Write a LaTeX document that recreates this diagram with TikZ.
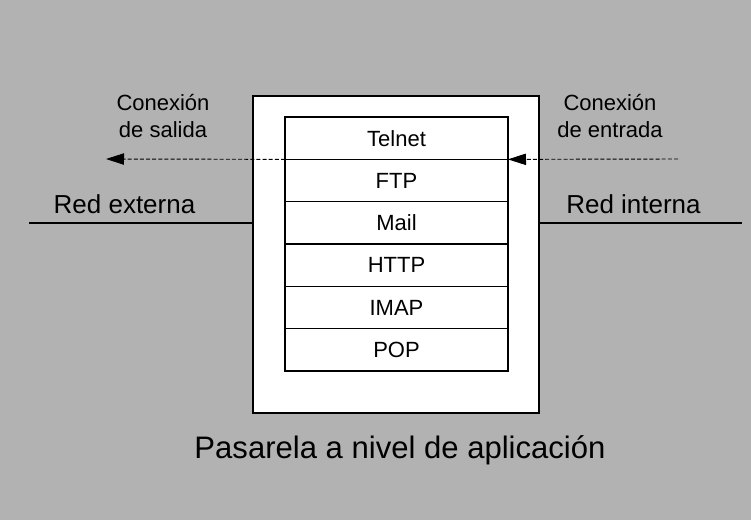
\documentclass[tikz,border=0pt]{standalone}
\usepackage{fontspec}
\setmainfont{Liberation Sans}
\usetikzlibrary{arrows.meta,positioning}
\definecolor{fondo}{gray}{0.70}
\tikzset{
  capa/.style={draw,line width=1pt,minimum width=167.25pt,minimum height=31.75pt,inner sep=0pt,outer sep=0pt,font=\fontsize{16.5}{19.8}\selectfont},
  flujo/.style={dash pattern=on 3pt off 1.6pt,line width=0.7pt,-{Triangle[length=13.5pt,width=8.5pt]}},
  red/.style={line width=1pt},
  rotulo/.style={anchor=base,inner sep=0pt,font=\fontsize{16.5}{20.25}\selectfont,align=center},
}

\begin{document}
\begin{tikzpicture}[x=0.75pt,y=-0.75pt]
\fill [fondo] (0,0) rectangle (751,520);
\node [draw,fill=white,line width=1pt,minimum width=214.5pt,minimum height=237.75pt,inner sep=0pt,outer sep=0pt] (pasarela) at (396,254.5) {};
\node [capa] (telnet) at (396.5,138.2) {Telnet};
\node [capa,below=0pt of telnet] (ftp) {FTP};
\node [capa,below=0pt of ftp] (mail) {Mail};
\node [capa,below=0pt of mail] (http) {HTTP};
\node [capa,below=0pt of http] (imap) {IMAP};
\node [capa,below=0pt of imap] (pop) {POP};
\coordinate (extremoizq) at (29,223);
\coordinate (extremoder) at (742,223);
\draw [red] (extremoizq) -- (extremoizq -| pasarela.west);
\draw [red] (pasarela.east |- extremoder) -- (extremoder);
\coordinate (salida) at (106,159);
\coordinate (entrada) at (678,159);
\draw [flujo] (telnet.south west) -- (salida);
\draw [flujo] (entrada) -- (telnet.south east);
\node [rotulo,font=\fontsize{19.5}{23}\selectfont] (externa) at (124.5,214) {Red externa};
\node [rotulo,font=\fontsize{19.5}{23}\selectfont] (interna) at (633.5,214) {Red interna};
\node [rotulo] (consalida) at (163,138) {Conexión\\de salida};
\node [rotulo] (conentrada) at (610,138) {Conexión\\de entrada};
\node [rotulo,font=\fontsize{23.3}{28}\selectfont] (titulo) at (400,459) {Pasarela a nivel de aplicación};
\end{tikzpicture}
\end{document}
